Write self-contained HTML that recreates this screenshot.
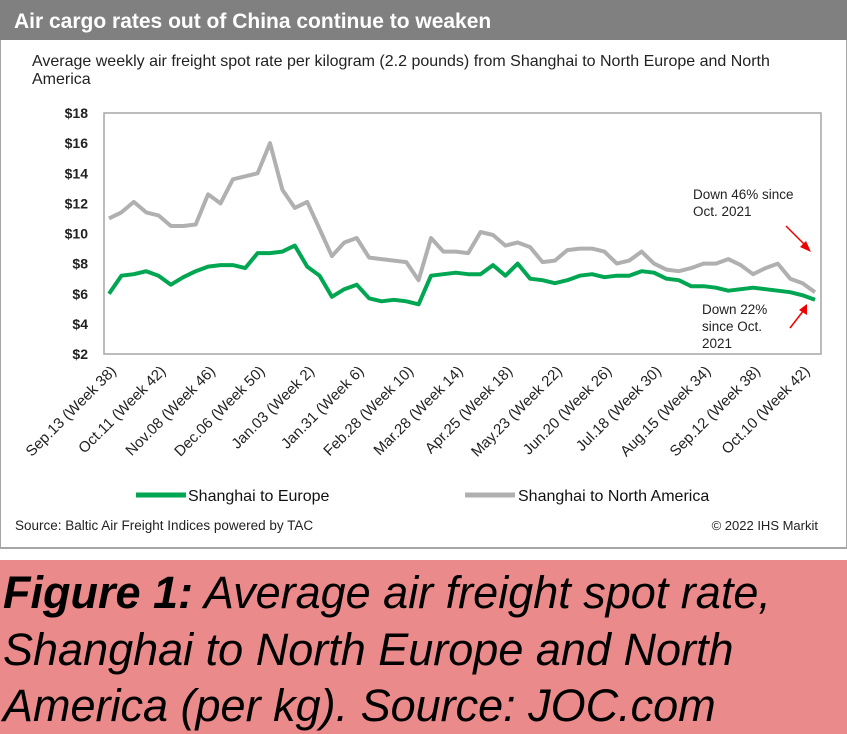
<!DOCTYPE html>
<html><head><meta charset="utf-8"><style>
body{margin:0;width:847px;height:734px;overflow:hidden;background:#fff;font-family:"Liberation Sans",Arial,sans-serif}
</style></head><body>
<svg width="847" height="734" xmlns="http://www.w3.org/2000/svg" style="position:absolute;left:0;top:0">
<rect x="0" y="0" width="847" height="548" fill="#fff" stroke="#a6a6a6" stroke-width="2"/>
<rect x="0" y="0" width="847" height="40" fill="#808080"/>
<text x="14" y="28" font-size="21" font-weight="bold" fill="#fff">Air cargo rates out of China continue to weaken</text>
<text x="32" y="66" font-size="16" fill="#222">Average weekly air freight spot rate per kilogram (2.2 pounds) from Shanghai to North Europe and North</text>
<text x="32" y="84" font-size="16" fill="#222">America</text>
<rect x="104" y="113" width="717" height="241" fill="none" stroke="#a6a6a6" stroke-width="1.5"/>
<g id="yaxis"></g>
<g id="xaxis"></g>
<g id="series"></g>
<text x="693" y="199" font-size="13.5" fill="#222">Down 46% since</text>
<text x="693" y="216" font-size="13.5" fill="#222">Oct. 2021</text>
<line x1="786" y1="226" x2="808" y2="248" stroke="#e00" stroke-width="1.5"/>
<polygon points="811,252 800,247 806,241" fill="#e00"/>
<text x="702" y="314" font-size="13.5" fill="#222">Down 22%</text>
<text x="702" y="331" font-size="13.5" fill="#222">since Oct.</text>
<text x="702" y="348" font-size="13.5" fill="#222">2021</text>
<line x1="790" y1="328" x2="804" y2="310" stroke="#e00" stroke-width="1.5"/>
<polygon points="807,304 807,315 799,310" fill="#e00"/>
<line x1="136" y1="495" x2="186" y2="495" stroke="#00a651" stroke-width="5"/>
<text x="188" y="501" font-size="16" fill="#111">Shanghai to Europe</text>
<line x1="465" y1="495" x2="515" y2="495" stroke="#b0b0b0" stroke-width="5"/>
<text x="518" y="501" font-size="16" fill="#111">Shanghai to North America</text>
<text x="15" y="530" font-size="13.5" fill="#222">Source: Baltic Air Freight Indices powered by TAC</text>
<text x="818" y="530" font-size="13" fill="#222" text-anchor="end">© 2022 IHS Markit</text>
<rect x="0" y="560" width="847" height="174" fill="#ea8a8a"/>
<g font-size="45" font-style="italic" fill="#000">
<text x="3" y="608"><tspan font-weight="bold">Figure 1:</tspan> Average air freight spot rate,</text>
<text x="3" y="665">Shanghai to North Europe and North</text>
<text x="3" y="721">America (per kg). Source: JOC.com</text>
</g>
</svg>
<script>
const yTicks=[2,4,6,8,10,12,14,16,18];
const xLabels=["Sep.13 (Week 38)","Oct.11 (Week 42)","Nov.08 (Week 46)","Dec.06 (Week 50)","Jan.03 (Week 2)","Jan.31 (Week 6)","Feb.28 (Week 10)","Mar.28 (Week 14)","Apr.25 (Week 18)","May.23 (Week 22)","Jun.20 (Week 26)","Jul.18 (Week 30)","Aug.15 (Week 34)","Sep.12 (Week 38)","Oct.10 (Week 42)"];
const europe=[6.0,7.2,7.3,7.5,7.2,6.6,7.1,7.5,7.8,7.9,7.9,7.7,8.7,8.7,8.8,9.2,7.8,7.2,5.8,6.3,6.6,5.7,5.5,5.6,5.5,5.3,7.2,7.3,7.4,7.3,7.3,7.9,7.2,8.0,7.0,6.9,6.7,6.9,7.2,7.3,7.1,7.2,7.2,7.5,7.4,7.0,6.9,6.5,6.5,6.4,6.2,6.3,6.4,6.3,6.2,6.1,5.9,5.6];
const northAmerica=[11.0,11.4,12.1,11.4,11.2,10.5,10.5,10.6,12.6,12.0,13.6,13.8,14.0,16.0,12.9,11.7,12.1,10.3,8.5,9.4,9.7,8.4,8.3,8.2,8.1,6.9,9.7,8.8,8.8,8.7,10.1,9.9,9.2,9.4,9.1,8.1,8.2,8.9,9.0,9.0,8.8,8.0,8.2,8.8,8.0,7.6,7.5,7.7,8.0,8.0,8.3,7.9,7.3,7.7,8.0,7.0,6.7,6.1];
const NS="http://www.w3.org/2000/svg";
const x0=109,x1=815,yTop=113,yBot=354,vMin=2,vMax=18;
function xs(i){return x0+(x1-x0)*i/(europe.length-1);}
function ys(v){return yBot-(v-vMin)/(vMax-vMin)*(yBot-yTop);}
const ya=document.getElementById('yaxis');
yTicks.forEach(v=>{
 const t=document.createElementNS(NS,'text');
 
 
 t.setAttribute('x',88);t.setAttribute('y',ys(v)+5);
 t.setAttribute('text-anchor','end');t.setAttribute('font-size','14');t.setAttribute('font-weight','bold');t.setAttribute('fill','#222');
 t.textContent='$'+v;ya.appendChild(t);
});
const xa=document.getElementById('xaxis');
xLabels.forEach((s,k)=>{
 const x=xs(k*4)+8,y=372;
 const t=document.createElementNS(NS,'text');
 
 
 t.setAttribute('x',x);t.setAttribute('y',y);
 t.setAttribute('text-anchor','end');t.setAttribute('font-size','15');t.setAttribute('fill','#222');
 t.setAttribute('transform','rotate(-45 '+x+' '+y+')');
 t.textContent=s;xa.appendChild(t);
});
const sg=document.getElementById('series');
function line(data,color,name){
 const p=document.createElementNS(NS,'polyline');
 
 
 p.setAttribute('points',data.map((v,i)=>xs(i).toFixed(1)+','+ys(v).toFixed(1)).join(' '));
 p.setAttribute('fill','none');p.setAttribute('stroke',color);p.setAttribute('stroke-width','4');p.setAttribute('stroke-linejoin','round');
 sg.appendChild(p);
}
line(northAmerica,'#b0b0b0','line-north-america');
line(europe,'#00a651','line-europe');
</script>
</body></html>
